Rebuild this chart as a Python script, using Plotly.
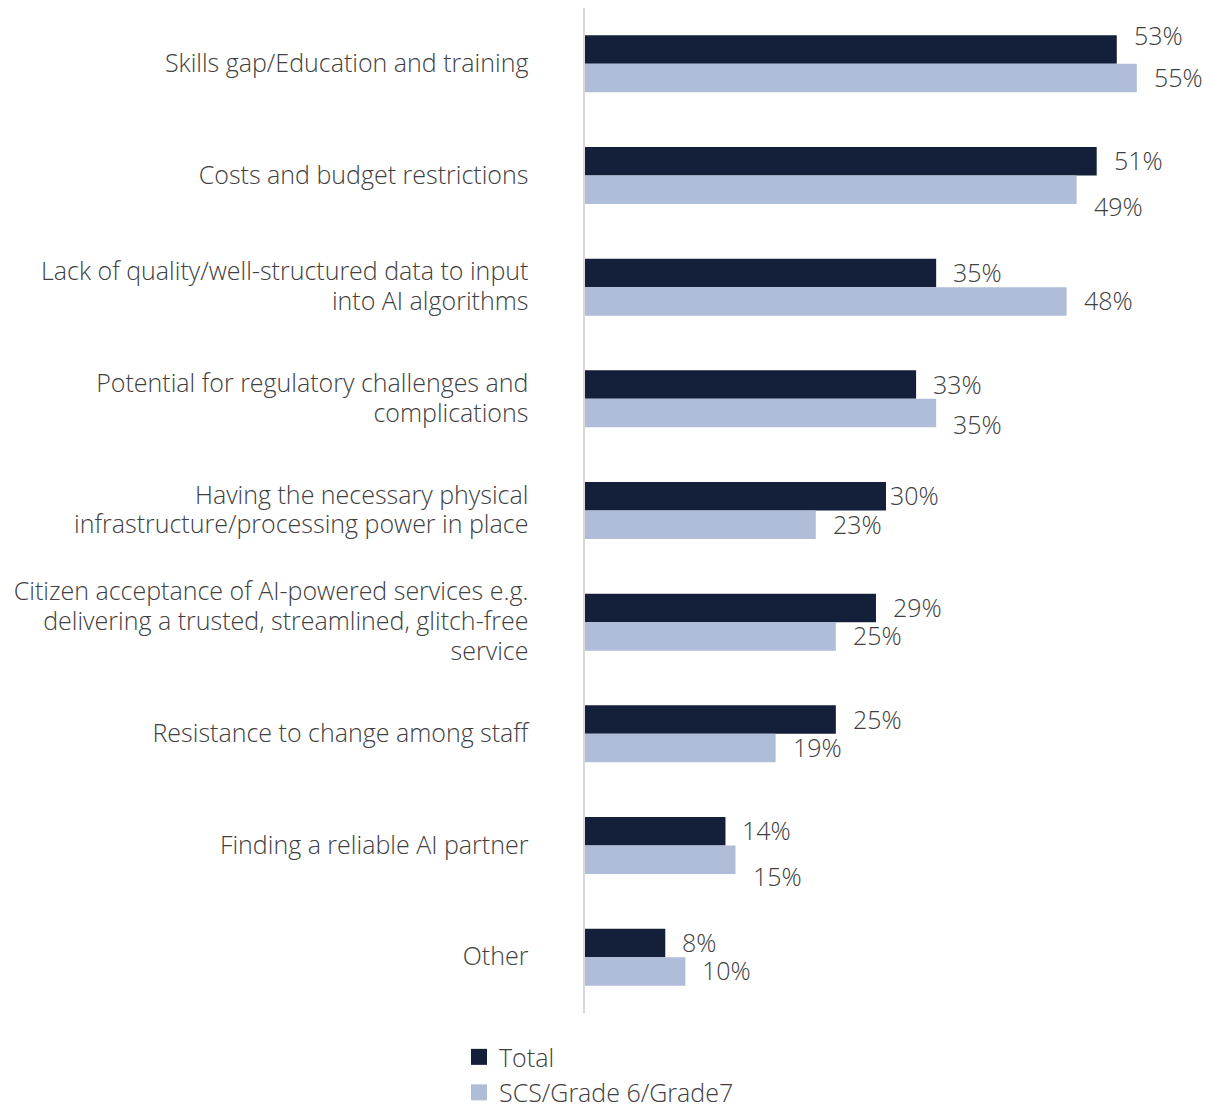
import plotly.graph_objects as go

# Barriers to AI adoption, share of respondents (%)
categories = [
    "Skills gap/Education and training",
    "Costs and budget restrictions",
    "Lack of quality/well-structured data to input<br>into AI algorithms",
    "Potential for regulatory challenges and<br>complications",
    "Having the necessary physical<br>infrastructure/processing power in place",
    "Citizen acceptance of AI-powered services e.g.<br>delivering a trusted, streamlined, glitch-free<br>service",
    "Resistance to change among staff",
    "Finding a reliable AI partner",
    "Other",
]
total = [53, 51, 35, 33, 30, 29, 25, 14, 8]
scs_grade = [55, 49, 48, 35, 23, 25, 19, 15, 10]
series_names = ["Total", "SCS/Grade 6/Grade7"]

DARK = "#142039"
LIGHT = "#afbdd8"
TEXT = "#404040"
FONT = "Open Sans"
FS = 25

# tick text is set at 25px, while the base tick font keeps line spacing tight
tick_text = [
    "<br>".join(f'<span style="font-size:{FS}px">{part}</span>' for part in c.split("<br>"))
    for c in categories
]

fig = go.Figure()
for name, vals, color in [(series_names[0], total, DARK), (series_names[1], scs_grade, LIGHT)]:
    fig.add_trace(go.Bar(
        y=categories, x=vals, name=name, orientation="h",
        marker=dict(color=color, line=dict(width=0)),
        showlegend=False,
    ))
    # legend swatch
    fig.add_trace(go.Scatter(
        x=[None], y=[None], mode="markers", name=name,
        marker=dict(symbol="square", size=18, color=color),
    ))

# per-label nudges (pixels) for value labels that sit off-centre
nudges = {
    (0, 0): (0, 14),
    (1, 1): (0, -17),
    (1, 3): (0, -12),
    (0, 4): (-13, 0),
    (1, 7): (0, -17),
}
half_bar_px = 14.3
for s, vals in enumerate([total, scs_grade]):
    base_dy = half_bar_px if s == 0 else -half_bar_px
    for i, v in enumerate(vals):
        dx, dy = nudges.get((s, i), (0, 0))
        fig.add_annotation(
            x=v, y=categories[i], text=f"{v}%", showarrow=False,
            xanchor="left", yanchor="middle",
            xshift=15 + dx, yshift=base_dy + dy + 1,
            font=dict(family=FONT, size=FS, color=TEXT, weight=300),
        )

fig.update_layout(
    width=1212, height=1106,
    margin=dict(l=585, r=27, t=8, b=93, autoexpand=False),
    paper_bgcolor="white", plot_bgcolor="white",
    barmode="group", bargap=0.49, bargroupgap=0,
    font=dict(family=FONT, size=FS, color=TEXT, weight=300),
    xaxis=dict(range=[0, 59.8], visible=False, fixedrange=True),
    yaxis=dict(
        autorange="reversed", showgrid=False, zeroline=False,
        showline=True, linecolor="#d9d9d9", linewidth=2,
        ticks="", ticklabelstandoff=50,
        tickmode="array", tickvals=categories, ticktext=tick_text,
        tickfont=dict(family=FONT, size=23, color=TEXT, weight=300),
    ),
    legend=dict(
        x=-0.21, y=-0.021, xanchor="left", yanchor="top",
        orientation="v", bgcolor="rgba(0,0,0,0)",
        font=dict(family=FONT, size=FS, color=TEXT, weight=300),
        itemsizing="trace", tracegroupgap=0,
    ),
)

fig.write_html("out.html")
